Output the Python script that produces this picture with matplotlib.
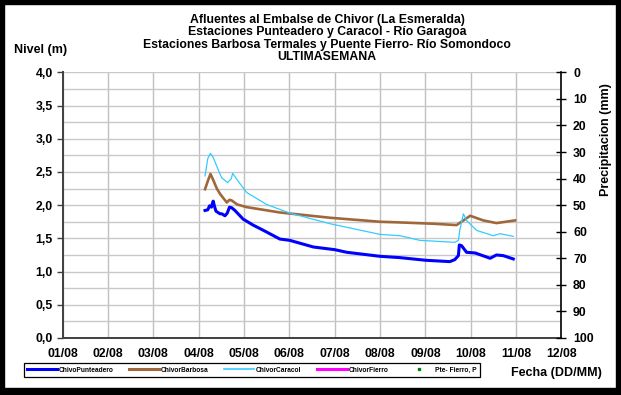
import matplotlib
matplotlib.use("Agg")
import matplotlib.pyplot as plt
from matplotlib.patches import Rectangle
from matplotlib.lines import Line2D
from matplotlib.ticker import FuncFormatter, MultipleLocator

plt.rcParams['font.family'] = ['Liberation Sans', 'DejaVu Sans']
plt.rcParams['font.weight'] = 'bold'

# ---- data (x = day of August, fractional) ----
day_ticks = list(range(1, 13))
day_labels = [f"{d:02d}/08" for d in day_ticks]

punt_t = [4.14, 4.20, 4.24, 4.28, 4.32, 4.35, 4.38, 4.47, 4.51, 4.58, 4.63, 4.68, 4.73, 4.80,
          4.98, 5.20, 5.43, 5.79, 6.01, 6.53, 7.00, 7.27, 8.00, 8.44, 9.01, 9.54, 9.65,
          9.73, 9.75, 9.80, 9.91, 10.10, 10.43, 10.57, 10.72, 10.94]
punt_v = [1.92, 1.93, 1.99, 1.97, 2.06, 1.98, 1.91, 1.87, 1.87, 1.84, 1.88, 1.97, 1.96, 1.92,
          1.79, 1.70, 1.62, 1.49, 1.47, 1.37, 1.33, 1.29, 1.23, 1.21, 1.17, 1.15, 1.18,
          1.24, 1.40, 1.39, 1.29, 1.28, 1.20, 1.25, 1.24, 1.19]

barb_t = [4.14, 4.20, 4.26, 4.32, 4.40, 4.47, 4.62, 4.68, 4.73, 4.85, 5.06, 5.79, 6.90,
          8.00, 8.44, 9.18, 9.69, 9.84, 9.99, 10.28, 10.57, 10.98]
barb_v = [2.24, 2.36, 2.47, 2.38, 2.25, 2.17, 2.04, 2.08, 2.07, 2.01, 1.97, 1.89, 1.81,
          1.75, 1.74, 1.72, 1.70, 1.77, 1.84, 1.77, 1.73, 1.77]

cara_t = [4.14, 4.20, 4.26, 4.32, 4.45, 4.51, 4.64, 4.72, 4.75, 4.85, 5.06, 5.50, 6.01,
          6.90, 8.00, 8.44, 8.88, 9.40, 9.65, 9.73, 9.76, 9.84, 9.91, 10.13, 10.50, 10.65, 10.94]
cara_v = [2.44, 2.70, 2.78, 2.72, 2.50, 2.41, 2.34, 2.40, 2.48, 2.38, 2.19, 2.01, 1.88,
          1.72, 1.56, 1.54, 1.47, 1.45, 1.44, 1.47, 1.62, 1.87, 1.77, 1.62, 1.54, 1.57, 1.53]

series_names = ["ChivoPunteadero", "ChivorBarbosa", "ChivorCaracol", "ChivorFierro", "Pte- Fierro, P"]

title_lines = ["Afluentes al Embalse de Chivor (La Esmeralda)",
               "Estaciones Punteadero y Caracol - Río Garagoa",
               "Estaciones Barbosa Termales y Puente Fierro- Río Somondoco",
               "ULTIMASEMANA"]

W, H = 621, 395
fig = plt.figure(figsize=(W / 100, H / 100), dpi=100)
fig.patch.set_facecolor('white')

L, R, T, B = 62.7, 561.3, 72.3, 338.0
ax = fig.add_axes([L / W, 1 - B / H, (R - L) / W, (B - T) / H])

c_blue = '#0000FF'
c_brown = '#A0683A'
c_cyan = '#33CCFF'
c_mag = '#FF00FF'
c_green = '#008000'

ax.plot(barb_t, barb_v, color=c_brown, lw=1.9, zorder=3)
ax.plot(cara_t, cara_v, color=c_cyan, lw=0.9, zorder=4)
ax.plot(punt_t, punt_v, color=c_blue, lw=2.2, zorder=5)

ax.set_xlim(1, 12)
ax.set_ylim(0, 4)
ax.set_xticks(day_ticks)
ax.set_xticklabels(day_labels)
ax.yaxis.set_major_locator(MultipleLocator(0.5))
ax.yaxis.set_minor_locator(MultipleLocator(0.25))
ax.yaxis.set_major_formatter(FuncFormatter(lambda v, p: f"{v:.1f}".replace('.', ',')))

ax.grid(True, which='both', axis='y', color='#C8C8C8', lw=1.0, zorder=0)
ax.grid(True, which='major', axis='x', color='#C0C0C0', lw=1.0, zorder=0)
ax.set_axisbelow(True)

for s in ['top', 'right']:
    ax.spines[s].set_visible(False)
ax.spines['left'].set_color('#404040')
ax.spines['left'].set_linewidth(1.4)
ax.spines['bottom'].set_color('#404040')
ax.spines['bottom'].set_linewidth(1.4)

ax.tick_params(axis='y', which='major', direction='out', length=4, width=1, pad=3,
               labelsize=8.8, color='#404040')
ax.tick_params(axis='y', which='minor', length=0)
ax.tick_params(axis='x', which='major', length=0, pad=7, labelsize=8.8)
for lab in ax.get_xticklabels() + ax.get_yticklabels():
    lab.set_fontweight('bold')

ax2 = ax.twinx()
ax2.set_ylim(100, 0)
ax2.set_yticks(range(0, 101, 10))
for s in ['top', 'left', 'bottom']:
    ax2.spines[s].set_visible(False)
ax2.spines['right'].set_color('black')
ax2.spines['right'].set_linewidth(1.2)
ax2.tick_params(axis='y', direction='inout', length=7, width=1, pad=5, labelsize=8.8)
for lab in ax2.get_yticklabels():
    lab.set_fontweight('bold')

# titles
ty = [20, 32.5, 45, 57.5]
for txt, y in zip(title_lines, ty):
    fig.text(327 / W, 1 - y / H, txt, ha='center', va='center', fontsize=8.8, fontweight='bold')

fig.text(41 / W, 1 - 50 / H, "Nivel (m)", ha='center', va='center', fontsize=9, fontweight='bold')
fig.text(606 / W, 1 - 140 / H, "Precipitacion (mm)", ha='center', va='center', rotation=90,
         fontsize=9, fontweight='bold')
fig.text(556 / W, 1 - 373 / H, "Fecha (DD/MM)", ha='center', va='center', fontsize=9, fontweight='bold')

# legend
handles = [Line2D([], [], color=c_blue, lw=2.2),
           Line2D([], [], color=c_brown, lw=2.2),
           Line2D([], [], color=c_cyan, lw=1.2),
           Line2D([], [], color=c_mag, lw=2.2),
           Line2D([], [], color=c_green, lw=0, marker='s', markersize=2)]
leg = fig.legend(handles, series_names, loc='center', bbox_to_anchor=(252 / W, 1 - 370 / H),
                 ncol=5, frameon=True, fancybox=False, framealpha=1,
                 edgecolor='black', handlelength=4.5, handletextpad=0.2, columnspacing=2.4,
                 borderpad=0.5, prop={'weight': 'bold', 'size': 4.8})
leg.get_frame().set_linewidth(0.9)

# black frame around figure
for (x0, y0, w, h) in [(0, 0, 4, H), (W - 5, 0, 5, H), (0, 0, W, 4), (0, 388, W, 7)]:
    fig.patches.append(Rectangle((x0 / W, 1 - (y0 + h) / H), w / W, h / H,
                                 transform=fig.transFigure, color='black', zorder=10))

fig.savefig("out.png", dpi=100)
